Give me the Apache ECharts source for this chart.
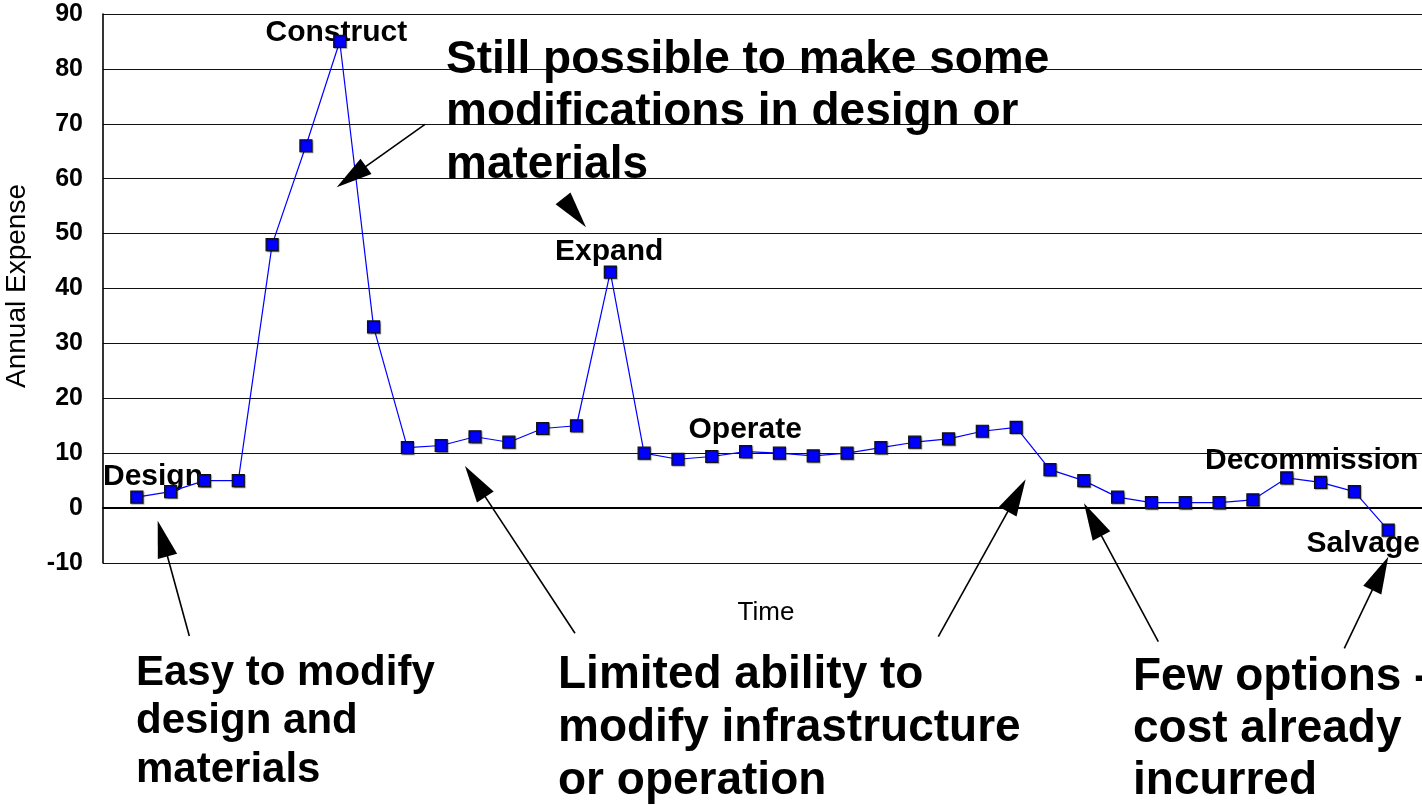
<!DOCTYPE html>
<html>
<head>
<meta charset="utf-8">
<script src="https://cdn.jsdelivr.net/npm/echarts/dist/echarts.min.js"></script>
<style>
  html, body { margin: 0; padding: 0; background: #fff; }
  #chart { width: 1422px; height: 805px; }
</style>
</head>
<body>
<div id="chart"></div>
<script>
// ---- Data ----
const periods = [1, 2, 3, 4, 5, 6, 7, 8, 9, 10, 11, 12, 13, 14, 15, 16, 17, 18, 19,
                 20, 21, 22, 23, 24, 25, 26, 27, 28, 29, 30, 31, 32, 33, 34, 35, 36, 37, 38];
const annualExpense = [2, 3, 5, 5, 48, 66, 85, 33, 11, 11.4, 13, 12, 14.5, 15, 43,
                       10, 8.9, 9.4, 10.3, 10, 9.5, 10, 11, 12, 12.6, 14, 14.7,
                       7, 5, 2, 1, 1, 1, 1.5, 5.5, 4.7, 3, -4];
const yTickValues = [-10, 0, 10, 20, 30, 40, 50, 60, 70, 80, 90];
const phaseLabels = ['Design', 'Construct', 'Expand', 'Operate', 'Decommission', 'Salvage'];
const yAxisTitle = 'Annual Expense';
const xAxisTitle = 'Time';
const notes = {
  still: ['Still possible to make some', 'modifications in design or', 'materials'],
  easy: ['Easy to modify', 'design and', 'materials'],
  limited: ['Limited ability to', 'modify infrastructure', 'or operation'],
  few: ['Few options -', 'cost already', 'incurred']
};

// ---- Rendering ----
const FONT = '"Liberation Sans", Arial, Helvetica, sans-serif';

function txt(text, x, y, size, weight, extra) {
  return Object.assign({
    type: 'text', x: x, y: y, z: 1,
    style: {
      text: text,
      font: weight + ' ' + size + 'px ' + FONT,
      fill: '#000',
      align: 'left', verticalAlign: 'middle',
      textAlign: 'left', textVerticalAlign: 'middle'
    }
  }, extra || {});
}

function block(lines, x, yFirst, gap, size) {
  return lines.map((l, i) => txt(l, x, yFirst + i * gap, size, 'bold'));
}

function arrow(tail, tip, headLen, headW) {
  const dx = tip[0] - tail[0], dy = tip[1] - tail[1];
  const len = Math.sqrt(dx * dx + dy * dy);
  const ux = dx / len, uy = dy / len;
  const bx = tip[0] - ux * headLen, by = tip[1] - uy * headLen;
  const px = -uy * headW / 2, py = ux * headW / 2;
  const out = [];
  if (len > headLen + 1) {
    out.push({ type: 'line', z: 5,
      shape: { x1: tail[0], y1: tail[1], x2: bx + ux * 4, y2: by + uy * 4 },
      style: { stroke: '#000', lineWidth: 1.6 } });
  }
  out.push({ type: 'polygon', z: 5,
    shape: { points: [[tip[0], tip[1]], [bx + px, by + py], [bx - px, by - py]] },
    style: { fill: '#000' } });
  return out;
}

const graphics = [].concat(
  // axis titles
  [txt(yAxisTitle, 17.5, 286, 28, 'normal', { rotation: Math.PI / 2,
      style: { text: yAxisTitle, font: 'normal 28px ' + FONT, fill: '#000',
               align: 'center', verticalAlign: 'middle', textAlign: 'center', textVerticalAlign: 'middle' } }),
   txt(xAxisTitle, 766, 612.5, 26, 'normal', {
      style: { text: xAxisTitle, font: 'normal 26px ' + FONT, fill: '#000',
               align: 'center', verticalAlign: 'middle', textAlign: 'center', textVerticalAlign: 'middle' } })],
  // phase labels
  [txt(phaseLabels[0], 103, 477, 30, 'bold'),
   txt(phaseLabels[1], 265.5, 33, 30, 'bold'),
   txt(phaseLabels[2], 555, 251.5, 30, 'bold'),
   txt(phaseLabels[3], 688.5, 430, 30, 'bold'),
   txt(phaseLabels[4], 1205, 461, 30, 'bold'),
   txt(phaseLabels[5], 1306.5, 544, 30, 'bold')],
  // annotation blocks
  block(notes.still, 446, 60, 52.5, 46),
  block(notes.easy, 136, 673, 48.5, 42),
  block(notes.limited, 558, 675, 53, 46),
  block(notes.few, 1133, 677.5, 52, 46),
  // arrows
  arrow([425, 124.3], [336.7, 187.3], 36, 19),
  arrow([562.8, 198], [586, 227.3], 37, 19),
  arrow([189.3, 636], [157.7, 520.7], 37, 20),
  arrow([575, 633.3], [465, 466], 37, 20),
  arrow([938.3, 636.7], [1025.7, 479.3], 37, 20),
  arrow([1158.3, 641.7], [1084, 503.3], 37, 20),
  arrow([1344.3, 648.3], [1388.3, 556.7], 37, 20)
);

const chart = echarts.init(document.getElementById('chart'), null, { renderer: 'canvas' });
chart.setOption({
  animation: false,
  backgroundColor: '#fff',
  textStyle: { fontFamily: FONT },
  grid: { left: 103, top: 14, width: 1324, height: 549, containLabel: false },
  xAxis: {
    type: 'value', min: 0, max: 39,
    axisLine: { show: true, onZero: true, lineStyle: { color: '#000', width: 2.2 } },
    axisTick: { show: false },
    axisLabel: { show: false },
    splitLine: { show: false }
  },
  yAxis: {
    type: 'value', min: yTickValues[0], max: yTickValues[yTickValues.length - 1], interval: 10,
    axisLine: { show: true, onZero: false, lineStyle: { color: '#000', width: 1.6 } },
    axisTick: { show: false },
    axisLabel: { margin: 20, color: '#000', fontWeight: 'bold', fontSize: 25, fontFamily: FONT },
    splitLine: { show: true, lineStyle: { color: '#111', width: 1.2 } }
  },
  series: [{
    type: 'line',
    data: periods.map((p, i) => [p, annualExpense[i]]),
    z: 3,
    symbol: 'rect',
    symbolSize: 12,
    itemStyle: { color: '#0000FF', borderColor: '#111', borderWidth: 1.2,
                 shadowColor: 'rgba(0,0,0,0.35)', shadowOffsetX: 1, shadowOffsetY: 1, shadowBlur: 1 },
    lineStyle: { color: '#0000FF', width: 1.2 },
    clip: false
  }],
  graphic: graphics
});
</script>
</body>
</html>
